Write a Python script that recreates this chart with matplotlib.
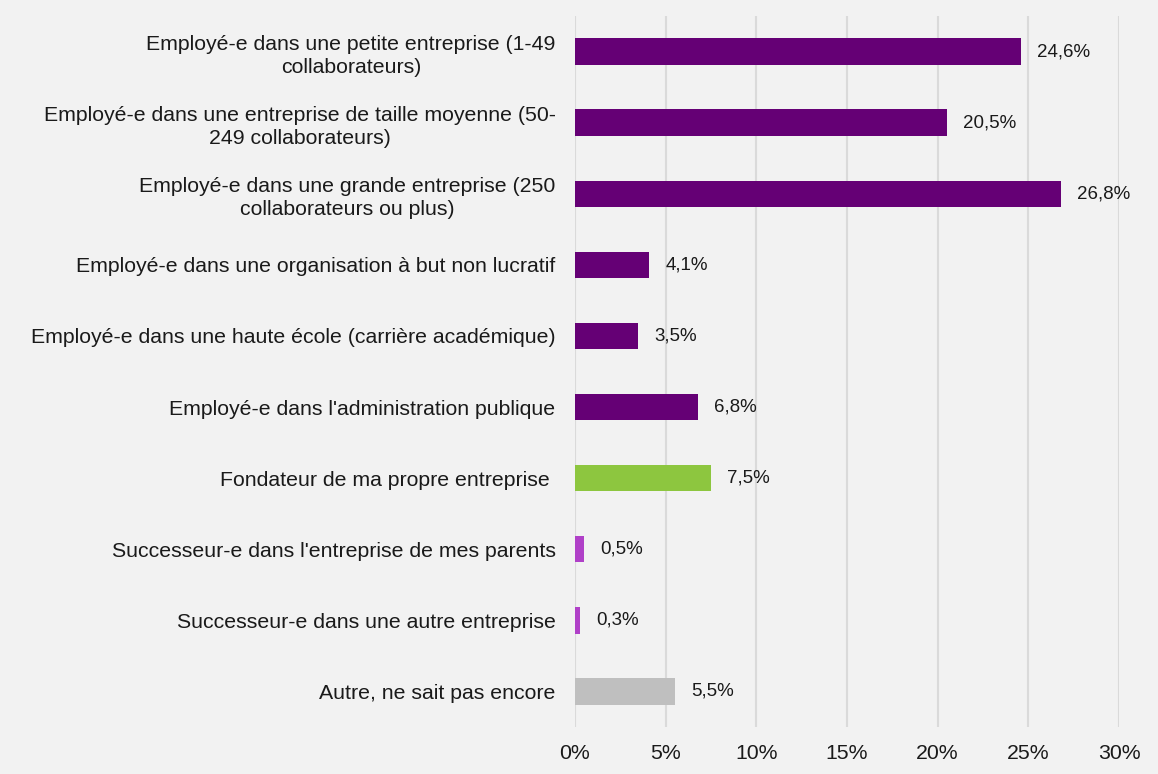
import matplotlib.pyplot as plt
from matplotlib.ticker import FuncFormatter

categories = [
    "Employé-e dans une petite entreprise (1-49\ncollaborateurs)",
    "Employé-e dans une entreprise de taille moyenne (50-\n249 collaborateurs)",
    "Employé-e dans une grande entreprise (250\ncollaborateurs ou plus)",
    "Employé-e dans une organisation à but non lucratif",
    "Employé-e dans une haute école (carrière académique)",
    "Employé-e dans l'administration publique",
    "Fondateur de ma propre entreprise ",
    "Successeur-e dans l'entreprise de mes parents",
    "Successeur-e dans une autre entreprise",
    "Autre, ne sait pas encore",
]
values = [24.6, 20.5, 26.8, 4.1, 3.5, 6.8, 7.5, 0.5, 0.3, 5.5]
groups = ["emp", "emp", "emp", "emp", "emp", "emp", "fond", "succ", "succ", "autre"]
group_colors = {"emp": "#650075", "fond": "#8DC63F", "succ": "#B040C8", "autre": "#BFBFBF"}

plt.rcParams['font.family'] = ['Liberation Sans', 'DejaVu Sans']
bg = "#F2F2F2"

fig = plt.figure(figsize=(11.58, 7.74), dpi=100, facecolor=bg)
ax = fig.add_axes([575 / 1158, 1 - 727 / 774, (1119 - 575) / 1158, 711 / 774])
ax.set_facecolor(bg)

y = range(len(categories))
bars = ax.barh(y, values, height=0.37, color=[group_colors[g] for g in groups], zorder=2)

for bar, v in zip(bars, values):
    ax.annotate(f"{v:.1f}%".replace(".", ","),
                (bar.get_width(), bar.get_y() + bar.get_height() / 2),
                xytext=(11.5, 0), textcoords="offset points",
                va="center", ha="left", fontsize=13.5, color="#1a1a1a")

ax.set_ylim(-0.5, len(categories) - 0.5)
ax.invert_yaxis()
ax.set_xlim(0, 30)
ax.set_xticks([0, 5, 10, 15, 20, 25, 30])
ax.xaxis.set_major_formatter(FuncFormatter(lambda x, p: f"{x:.0f}%"))
ax.set_yticks(list(y))
ax.set_yticklabels(categories, fontsize=15.3, color="#1a1a1a")
for lbl in ax.get_yticklabels():
    lbl.set_multialignment("center")
    lbl.set_linespacing(1.3)

ax.tick_params(axis="y", length=0, pad=14)
ax.tick_params(axis="x", length=0, pad=12, labelsize=15.3, labelcolor="#1a1a1a")
ax.grid(axis="x", color="#DADADA", linewidth=1.5, zorder=0)
ax.set_axisbelow(True)
for s in ax.spines.values():
    s.set_visible(False)

fig.savefig("out.png", dpi=100, facecolor=bg)
